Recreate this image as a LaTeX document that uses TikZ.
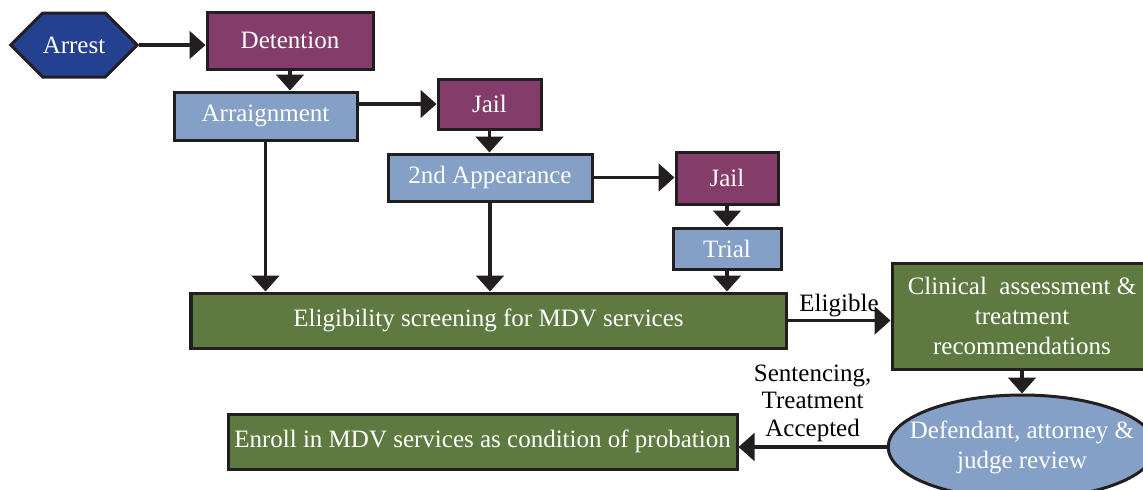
\documentclass[tikz,border=0pt]{standalone}
\usepackage{fontspec}
\setmainfont{Liberation Serif}
\usetikzlibrary{arrows.meta,shapes.geometric,shapes.symbols}
\definecolor{arrestblue}{RGB}{36,64,144}
\definecolor{jailpurple}{RGB}{132,61,106}
\definecolor{courtblue}{RGB}{132,160,198}
\definecolor{mdvgreen}{RGB}{94,122,64}
\definecolor{outline}{RGB}{35,31,32}
\begin{document}
\begin{tikzpicture}[x=0.4pt,y=-0.4pt,font=\fontsize{10}{12}\selectfont,
    box/.style={draw=outline,line width=1.2pt,text=white,inner sep=0pt,align=center},
    jail/.style={box,fill=jailpurple},
    court/.style={box,fill=courtblue},
    mdv/.style={box,fill=mdvgreen},
    fleche/.style={draw=outline,line width=1.5pt,-{Triangle[length=6.4pt,width=11pt]}}]
    \useasboundingbox (0,0) rectangle (1143,489);
    % etapes judiciaires
    \node[box,fill=arrestblue,signal,signal to=west and east,signal pointer angle=90,
        minimum width=50.4pt,minimum height=25.6pt] (arrest) at (74,45) {Arrest};
    \node[jail,minimum width=66.4pt,minimum height=22.8pt] (detention) at (290,40.5) {Detention};
    \node[court,minimum width=73.2pt,minimum height=19.2pt] (arraign) at (265.5,116) {Arraignment};
    \node[jail,minimum width=41.2pt,minimum height=20pt] (jail1) at (489.5,104) {Jail};
    \node[court,minimum width=81.6pt,minimum height=18.8pt] (appear) at (490,177.5) {2nd Appearance};
    \node[jail,minimum width=40.8pt,minimum height=20.8pt] (jail2) at (727,178) {Jail};
    \node[court,minimum width=43.2pt,minimum height=16.4pt] (trial) at (727,248.5) {Trial};
    % services MDV
    \node[mdv,minimum width=238pt,minimum height=22pt] (elig) at (488.5,320.5) {Eligibility screening for MDV services};
    \node[mdv,minimum width=104pt,minimum height=42.4pt] (clinical) at (1022,316) {Clinical\ \ assessment \&\\treatment\\recommendations};
    \node[box,fill=courtblue,ellipse,inner xsep=-7pt,inner ysep=4pt,minimum height=41.6pt] (review) at (1022,447) {Defendant, attorney \&\\judge review};
    \node[mdv,minimum width=203.6pt,minimum height=22pt] (enroll) at (482.5,441.5) {Enroll in MDV services as condition of probation};
    \draw[fleche] (arrest.east) -- (arrest.east -| detention.west);
    \draw[fleche] (detention.south) -- (detention.south |- arraign.north);
    \draw[fleche] (arraign.east |- jail1.west) -- (jail1.west);
    \draw[fleche] (jail1.south) -- (jail1.south |- appear.north);
    \draw[fleche] (appear.east) -- (appear.east -| jail2.west);
    \draw[fleche] (jail2.south) -- (trial.north);
    \draw[fleche] (trial.south) -- (trial.south |- elig.north);
    \draw[fleche] (arraign.south) -- (arraign.south |- elig.north);
    \draw[fleche] (appear.south) -- (appear.south |- elig.north);
    \draw[fleche] (elig.east) -- node[above=-2.5pt]{Eligible} (elig.east -| clinical.west);
    \draw[fleche] (clinical.south) -- (clinical.south |- review.north);
    \draw[fleche] (review.west) -- node[above=-2pt,align=center,font=\fontsize{10}{11}\selectfont]{Sentencing,\\Treatment\\Accepted} (review.west -| enroll.east);
\end{tikzpicture}
\end{document}
